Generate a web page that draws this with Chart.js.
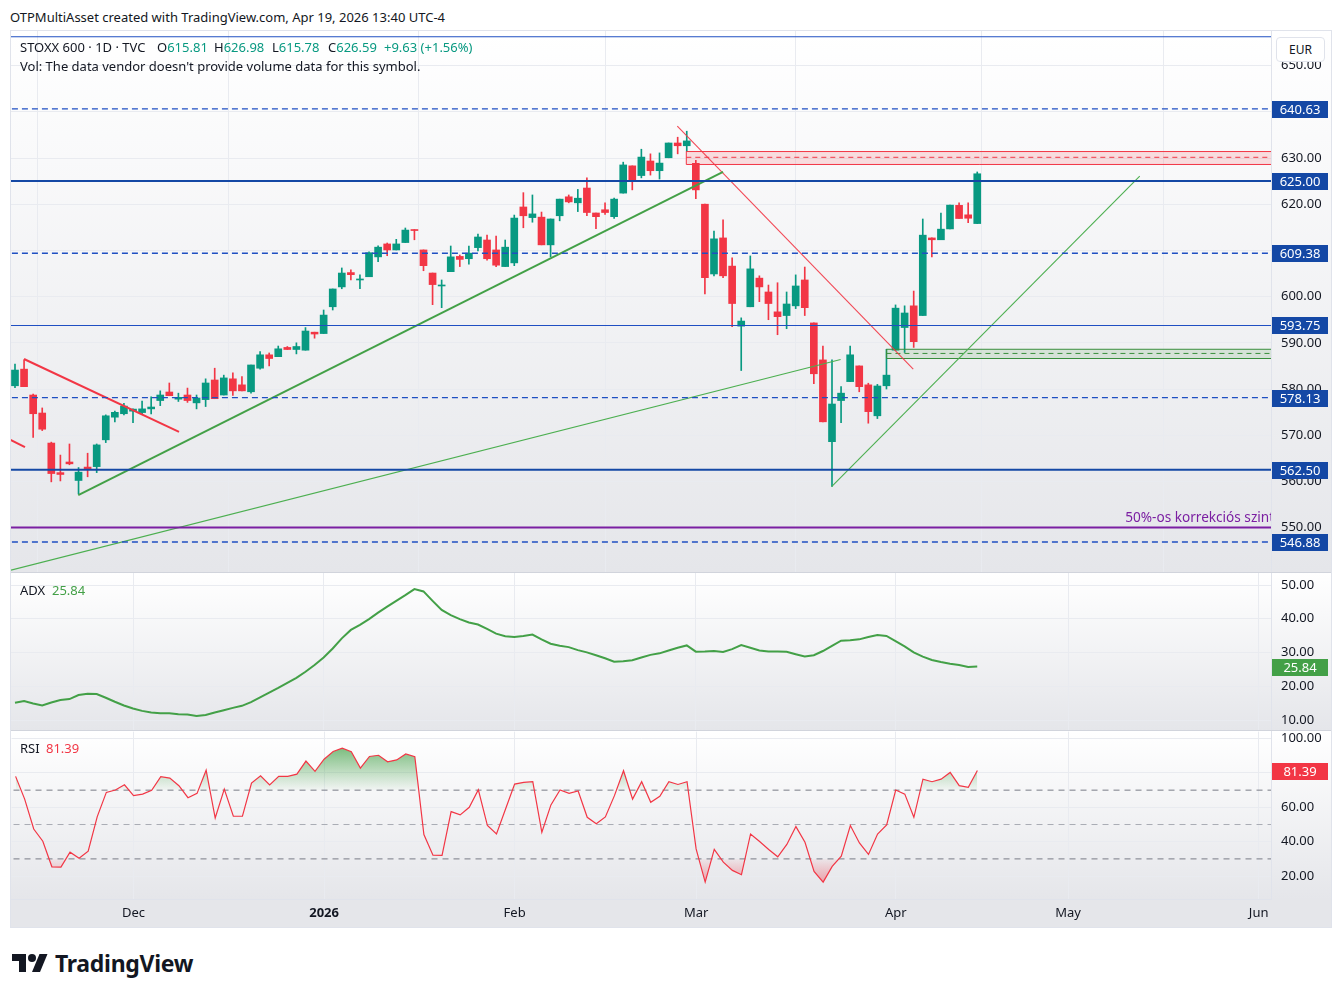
<!DOCTYPE html>
<html>
<head>
<meta charset="utf-8">
<title>STOXX 600</title>
<script src="https://cdn.jsdelivr.net/npm/chart.js@4.4.1/dist/chart.umd.min.js"></script>
<style>
  body { margin: 0; width: 1342px; height: 997px; background: #fff; position: relative; overflow: hidden; font-family: "Noto Sans", sans-serif; color: #131722; }
  .abs { position: absolute; }
  canvas { display: block; }
  #frame { left: 10px; top: 30px; width: 1320px; height: 896px; border: 1px solid #e0e3eb; }
  .sep { left: 11px; width: 1320px; height: 1px; background: #d1d4dc; }
  .txt { font-size: 13px; line-height: 16px; white-space: nowrap; }
  .up { color: #089981; }
  .green { color: #43a047; }
  .red { color: #f23645; }
  #eur { left: 1276px; top: 37px; width: 47px; height: 23px; border: 1px solid #e0e3eb; border-radius: 4px; background: #fff; font-size: 12px; line-height: 23px; text-align: center; }
  #logoText { left: 55px; top: 948px; font-size: 23px; font-weight: bold; line-height: 30px; letter-spacing: -0.3px; }
</style>
</head>
<body>
<div class="abs txt" style="left:10px;top:9px">OTPMultiAsset created with TradingView.com, Apr 19, 2026 13:40 UTC-4</div>
<div id="frame" class="abs"></div>
<div class="abs" style="left:11px;top:31px"><canvas id="priceChart" width="1320" height="541"></canvas></div>
<div class="abs sep" style="top:572px"></div>
<div class="abs" style="left:11px;top:573px"><canvas id="adxChart" width="1320" height="157"></canvas></div>
<div class="abs sep" style="top:730px"></div>
<div class="abs" style="left:11px;top:731px"><canvas id="rsiChart" width="1320" height="196"></canvas></div>

<div class="abs txt" style="left:20px;top:39px">STOXX 600 · 1D · TVC</div>
<div class="abs txt" style="left:157px;top:39px">O<span class="up">615.81</span></div>
<div class="abs txt" style="left:214px;top:39px">H<span class="up">626.98</span></div>
<div class="abs txt" style="left:272px;top:39px">L<span class="up">615.78</span></div>
<div class="abs txt" style="left:328px;top:39px">C<span class="up">626.59</span></div>
<div class="abs txt up" style="left:384px;top:39px">+9.63 (+1.56%)</div>
<div class="abs txt" style="left:20px;top:58px">Vol: The data vendor doesn't provide volume data for this symbol.</div>
<div class="abs txt" style="left:20px;top:582px">ADX</div>
<div class="abs txt green" style="left:52px;top:582px">25.84</div>
<div class="abs txt" style="left:20px;top:740px">RSI</div>
<div class="abs txt red" style="left:46px;top:740px">81.39</div>
<div id="eur" class="abs">EUR</div>

<svg class="abs" style="left:12px;top:950px" width="36" height="28" viewBox="0 0 36 28">
  <path d="M14 22H7V11H0V4h14v18z" fill="#131722"/>
  <circle cx="20" cy="8" r="4" fill="#131722"/>
  <path d="M28 22h-8l7.5-18h8L28 22z" fill="#131722"/>
</svg>
<div id="logoText" class="abs">TradingView</div>

<script>
// daily candles, Nov 12 2025 .. Apr 17 2026 (bar index 0..106)
const opens = [580.7, 584.3, 578.7, 574.8, 568.3, 561.9, 564.2, 560.2, 563.1, 563.2,
  569.0, 573.9, 574.65, 575.2, 574.9, 575.7, 577.5, 579.35, 577.8, 578.7,
  577.0, 577.7, 581.95, 578.7, 582.2, 580.9, 579.4, 584.5, 587.4, 587.0,
  589.0, 588.55, 588.4, 592.3, 592.0, 597.8, 602.1, 605.2, 603.6, 604.3,
  608.6, 611.4, 610.1, 611.7, 614.5, 610.1, 605.1, 602.3, 605.4, 608.7,
  608.2, 610.6, 612.25, 610.1, 606.5, 607.3, 619.4, 617.1, 617.2, 611.2,
  617.5, 621.6, 620.3, 623.5, 618.1, 618.8, 617.3, 622.4, 628.3, 626.2,
  629.35, 627.25, 630.05, 633.25, 632.65, 628.85, 620.0, 604.9, 612.7, 606.6,
  593.6, 597.8, 604.0, 601.0, 596.7, 595.9, 598.0, 603.6, 594.3, 586.3,
  568.6, 577.5, 581.6, 585.0, 580.9, 574.2, 580.7, 588.4, 593.3, 598.0,
  595.9, 612.7, 612.3, 614.65, 619.75, 617.7, 615.81];
const highs = [585.4, 586.3, 578.9, 575.9, 568.5, 565.7, 568.1, 563.0, 566.1, 568.1,
  574.4, 575.2, 576.9, 575.7, 577.4, 578.3, 579.6, 581.3, 579.1, 580.2,
  578.7, 582.2, 584.5, 583.0, 583.5, 582.7, 585.2, 588.1, 587.8, 589.3,
  589.2, 590.0, 593.3, 592.3, 597.1, 601.65, 606.2, 605.8, 604.7, 609.7,
  611.0, 611.6, 612.4, 614.85, 614.5, 610.1, 605.1, 603.6, 610.95, 609.0,
  610.95, 613.55, 613.3, 613.1, 612.25, 617.65, 622.5, 622.0, 618.3, 616.8,
  621.1, 622.0, 623.2, 625.7, 618.1, 620.3, 621.3, 629.1, 628.3, 631.9,
  630.9, 631.1, 633.25, 634.5, 635.8, 629.5, 620.0, 614.2, 616.6, 608.4,
  595.4, 608.8, 604.5, 602.5, 603.0, 601.0, 604.7, 606.4, 594.3, 589.3,
  586.3, 580.5, 589.3, 585.0, 581.25, 581.0, 588.6, 598.2, 598.0, 601.2,
  616.8, 612.7, 618.1, 619.8, 620.3, 620.3, 626.98];
const lows = [580.3, 580.5, 569.5, 571.0, 559.9, 560.1, 563.6, 557.3, 561.0, 561.9,
  568.4, 572.9, 574.4, 572.7, 574.6, 574.6, 576.4, 578.55, 577.3, 577.1,
  575.7, 576.2, 577.9, 578.7, 578.6, 579.6, 579.1, 584.3, 585.0, 587.0,
  588.55, 587.6, 588.4, 591.0, 592.0, 597.1, 601.7, 603.6, 601.7, 604.3,
  607.55, 608.85, 610.1, 611.7, 612.3, 605.6, 598.25, 597.6, 605.4, 606.5,
  607.0, 609.9, 607.9, 606.5, 606.5, 606.7, 614.9, 616.1, 611.2, 608.6,
  616.4, 620.3, 618.4, 617.5, 614.7, 617.8, 616.9, 622.4, 623.1, 625.7,
  626.3, 625.45, 630.05, 630.9, 631.4, 621.2, 600.6, 604.5, 604.1, 593.5,
  584.0, 597.8, 598.9, 595.0, 591.75, 593.05, 597.4, 595.9, 581.15, 572.9,
  558.9, 572.7, 581.6, 579.4, 572.6, 573.6, 580.0, 588.4, 587.9, 589.0,
  595.9, 608.6, 612.3, 614.65, 616.9, 616.0, 615.78];
const closes = [584.1, 580.5, 574.65, 571.3, 561.7, 561.5, 563.8, 562.0, 562.7, 567.9,
  574.2, 574.95, 576.3, 575.65, 575.7, 576.1, 578.7, 578.55, 578.2, 577.5,
  578.05, 581.3, 577.9, 582.4, 579.6, 579.6, 585.2, 587.4, 586.6, 588.7,
  588.55, 589.2, 592.55, 591.9, 596.0, 601.65, 605.1, 604.75, 603.8, 609.5,
  610.7, 610.1, 611.4, 614.4, 614.3, 606.7, 602.6, 602.5, 608.6, 608.05,
  609.4, 612.9, 608.2, 606.8, 610.7, 617.0, 617.5, 617.9, 611.2, 616.8,
  621.1, 620.5, 621.3, 618.2, 617.3, 618.2, 621.1, 628.5, 624.95, 630.2,
  627.25, 628.9, 633.25, 632.65, 633.7, 623.1, 604.1, 612.5, 604.5, 598.5,
  594.7, 606.0, 602.1, 598.5, 595.65, 598.4, 602.3, 597.6, 583.3, 572.9,
  576.75, 579.1, 587.4, 580.5, 575.1, 580.65, 583.0, 597.5, 596.45, 590.25,
  613.3, 612.3, 614.6, 619.8, 616.9, 616.96, 626.59];

const adxValues = [15.1, 15.6, 14.9, 14.3, 15.2, 15.9, 16.2, 17.4, 17.8, 17.7,
  16.6, 15.4, 14.3, 13.4, 12.7, 12.2, 12.0, 12.0, 11.7, 11.6,
  11.2, 11.5, 12.2, 12.9, 13.6, 14.2, 15.3, 16.7, 18.1, 19.5,
  21.0, 22.5, 24.3, 26.3, 28.5, 31.2, 34.2, 36.7, 38.2, 39.9,
  41.8, 43.6, 45.3, 47.0, 48.8, 48.1, 45.3, 42.6, 41.1, 39.9,
  38.9, 38.3, 37.0, 35.6, 34.8, 34.6, 34.9, 35.3, 33.9, 32.6,
  32.0, 31.6, 30.7, 30.05, 29.2, 28.3, 27.3, 27.4, 27.7, 28.5,
  29.3, 29.75, 30.6, 31.4, 32.1, 30.25, 30.3, 30.44, 30.15, 31.0,
  32.2, 31.4, 30.6, 30.3, 30.3, 30.2, 29.5, 28.8, 29.2, 30.45,
  32.0, 33.5, 33.6, 33.9, 34.6, 35.2, 34.9, 33.4, 31.8, 30.05,
  28.8, 27.8, 27.2, 26.7, 26.3, 25.7, 25.84];

const rsiValues = [78.0, 64.8, 47.4, 40.3, 25.4, 25.2, 33.9, 30.4, 34.5, 54.6,
  68.7, 70.05, 73.1, 66.8, 67.7, 69.9, 77.8, 77.0, 72.6, 65.6,
  68.1, 81.6, 53.8, 70.6, 54.8, 54.8, 74.1, 78.4, 73.1, 78.0,
  78.0, 79.3, 86.9, 80.9, 88.0, 92.5, 94.4, 92.3, 82.8, 89.6,
  90.3, 86.5, 87.6, 91.1, 89.4, 44.2, 32.2, 32.0, 57.5, 55.6,
  60.0, 70.2, 49.4, 44.5, 59.0, 73.5, 74.5, 74.9, 45.5, 61.4,
  70.05, 68.1, 69.5, 54.2, 50.4, 54.4, 66.8, 81.3, 64.8, 74.9,
  62.9, 66.4, 74.9, 73.3, 74.9, 35.8, 16.5, 35.5, 28.1, 23.3,
  20.8, 44.5, 40.1, 35.5, 31.2, 38.4, 48.8, 39.7, 22.7, 16.5,
  25.6, 31.6, 49.4, 39.3, 32.6, 44.5, 49.8, 70.05, 67.7, 54.2,
  76.4, 74.9, 76.4, 80.3, 72.6, 71.6, 81.39];

// month ticks, as bar indexes (future bars continue on weekdays)
const monthTicks = [13, 34, 55, 75, 97, 116, 137];
const monthLabels = ['Dec', '2026', 'Feb', 'Mar', 'Apr', 'May', 'Jun'];
const priceTicks = [550, 560, 570, 580, 590, 600, 610, 620, 630, 640, 650];
const adxTicks = [10, 20, 30, 40, 50];
const rsiTicks = [20, 40, 60, 80, 100];

// drawings
const solidLevels = [656.25, 625.00, 593.75, 562.50];
const dashedLevels = [640.63, 609.38, 578.13, 546.88];
const fibLevel = 550;
const redLines = [[-0.5, 569.0, 1.1, 567.4], [0.99, 586.5, 18.07, 570.7]];
const greenLines = [[6.97, 557.05, 78.0, 627.0]];
const thinRedLines = [[72.96, 636.9, 98.95, 584.3]];
const thinGreenLines = [[-0.44, 540.8, 90.95, 586.4], [89.96, 558.85, 123.9, 626.1]];
const resistZone = [73.95, 628.6, 631.4, 630.15];   // from bar, bottom, top, middle
const supportZone = [96, 586.6, 588.6, 587.7];
const rsiLevels = [70, 50, 30];

const X_MIN = -0.44, X_MAX = 138.36;
const FONT = '"Noto Sans", sans-serif';
const UP = '#089981', DOWN = '#f23645', NAVY = '#1448a5', BLUE = '#1f4fc2';

const panelBg = {
  id: 'panelBg',
  beforeDraw(chart) {
    const { ctx, width, height, chartArea } = chart;
    const g = ctx.createLinearGradient(0, chartArea.top, 0, chartArea.bottom);
    g.addColorStop(0, '#ffffff');
    g.addColorStop(1, '#e5e6ea');
    ctx.save();
    ctx.fillStyle = g;
    ctx.fillRect(0, 0, width, height);
    ctx.restore();
  }
};

const axisBoxes = {
  id: 'axisBoxes',
  afterDraw(chart, args, opts) {
    const { ctx, chartArea } = chart;
    const ys = chart.scales.y;
    (opts.items || []).forEach(it => {
      const y = Math.round(ys.getPixelForValue(it.value));
      ctx.save();
      ctx.fillStyle = it.color;
      ctx.fillRect(chartArea.right + 1, y - 8, 56, 17);
      ctx.fillStyle = '#ffffff';
      ctx.font = '13px ' + FONT;
      ctx.textAlign = 'center';
      ctx.textBaseline = 'middle';
      ctx.fillText(it.value.toFixed(2), chartArea.right + 29, y + 1);
      ctx.restore();
    });
  }
};

const fibText = {
  id: 'fibText',
  afterDatasetsDraw(chart) {
    const { ctx, chartArea, scales } = chart;
    ctx.save();
    ctx.beginPath();
    ctx.rect(chartArea.left, chartArea.top, chartArea.width, chartArea.height);
    ctx.clip();
    ctx.fillStyle = '#7b1fa2';
    ctx.font = '13.6px ' + FONT;
    ctx.textBaseline = 'bottom';
    ctx.fillText('50%-os korrekciós szint 550.00', scales.x.getPixelForValue(122.3), scales.y.getPixelForValue(fibLevel) - 3);
    ctx.restore();
  }
};

function xScale(showLabels) {
  return {
    type: 'linear', min: X_MIN, max: X_MAX, offset: false,
    afterBuildTicks: s => { s.ticks = monthTicks.map(v => ({ value: v })); },
    afterFit: s => { s.height = showLabels ? 28 : 0; s.paddingLeft = 0; s.paddingRight = 0; },
    grid: { color: '#e9ebf0', drawTicks: false },
    border: { display: showLabels, color: '#e0e3eb' },
    ticks: {
      display: showLabels, autoSkip: false, maxRotation: 0, padding: 6, color: '#131722',
      font: ctx => ({ family: FONT, size: 13, weight: ctx.index === 1 ? 'bold' : 'normal' }),
      callback: v => monthLabels[monthTicks.indexOf(v)]
    }
  };
}

function yScale(min, max, ticks) {
  return {
    position: 'right', min, max,
    afterBuildTicks: s => { s.ticks = ticks.map(v => ({ value: v })); },
    afterFit: s => { s.width = 60; s.paddingTop = 0; s.paddingBottom = 0; },
    grid: { color: '#e9ebf0', drawTicks: false },
    border: { display: true, color: '#e0e3eb' },
    ticks: { padding: 10, color: '#131722', font: { family: FONT, size: 13 }, autoSkip: false, callback: v => v.toFixed(2) }
  };
}

function seg(p, color, width, dash, order) {
  return { type: 'line', data: [{ x: p[0], y: p[1] }, { x: p[2], y: p[3] }], borderColor: color,
    borderWidth: width, borderDash: dash || [], pointRadius: 0, fill: false, order: order || 1 };
}

function zone(z, stroke, bg) {
  const right = X_MAX + 5;
  return [
    { type: 'line', data: [{ x: z[0], y: z[2] }, { x: right, y: z[2] }, { x: right, y: z[1] }, { x: z[0], y: z[1] }, { x: z[0], y: z[2] }],
      borderColor: stroke, borderWidth: 1, backgroundColor: bg, fill: 'shape', pointRadius: 0, order: 5 },
    seg([z[0], z[3], right, z[3]], stroke, 1, [5, 4], 5)
  ];
}

const commonOpts = {
  responsive: false, animation: false, events: [],
  layout: { padding: 0 },
  plugins: { legend: { display: false }, tooltip: { enabled: false } }
};

// ---------- price panel ----------
const candleColors = opens.map((o, i) => closes[i] >= o ? UP : DOWN);
const priceSets = [
  { type: 'bar', data: opens.map((o, i) => ({ x: i, y: [lows[i], highs[i]] })), backgroundColor: candleColors,
    barThickness: 1, grouped: false, minBarLength: 1, order: 20 },
  { type: 'bar', data: opens.map((o, i) => ({ x: i, y: [o, closes[i]] })), backgroundColor: candleColors,
    barThickness: 7, grouped: false, minBarLength: 1, order: 19 },
  ...zone(resistZone, '#f23645', 'rgba(242,54,69,0.15)'),
  ...zone(supportZone, '#388e3c', 'rgba(56,142,60,0.14)')
];
solidLevels.forEach(v => {
  const thick = (v === 625 || v === 562.5);
  priceSets.push(seg([X_MIN - 1, v, X_MAX + 1, v], thick ? NAVY : BLUE, thick ? 2 : 1.2));
});
dashedLevels.forEach(v => priceSets.push(seg([X_MIN - 1, v, X_MAX + 1, v], BLUE, 1.3, [6, 4])));
priceSets.push(seg([X_MIN - 1, fibLevel, X_MAX + 1, fibLevel], '#7b1fa2', 2));
redLines.forEach(p => priceSets.push(seg(p, '#f23645', 2)));
greenLines.forEach(p => priceSets.push(seg(p, '#43a047', 2)));
thinRedLines.forEach(p => priceSets.push(seg(p, 'rgba(242,54,69,0.9)', 1.1)));
thinGreenLines.forEach(p => priceSets.push(seg(p, '#4caf50', 1.1)));

new Chart(document.getElementById('priceChart'), {
  type: 'bar',
  data: { datasets: priceSets },
  options: { ...commonOpts,
    scales: { x: xScale(false), y: yScale(540.39, 657.49, priceTicks) },
    plugins: { ...commonOpts.plugins,
      axisBoxes: { items: [640.63, 625.00, 609.38, 593.75, 578.13, 562.50, 546.88].map(v => ({ value: v, color: NAVY })) } }
  },
  plugins: [panelBg, fibText, axisBoxes]
});

// ---------- ADX panel ----------
new Chart(document.getElementById('adxChart'), {
  type: 'line',
  data: { datasets: [{ data: adxValues.map((v, i) => ({ x: i, y: v })), borderColor: '#43a047', borderWidth: 2, pointRadius: 0, fill: false }] },
  options: { ...commonOpts,
    scales: { x: xScale(false), y: yScale(7.04, 53.56, adxTicks) },
    plugins: { ...commonOpts.plugins, axisBoxes: { items: [{ value: 25.84, color: '#43a047' }] } }
  },
  plugins: [panelBg, axisBoxes]
});

// ---------- RSI panel ----------
const rsiPoints = rsiValues.map((v, i) => ({ x: i, y: v }));
const rsiSets = [
  { data: rsiPoints, borderColor: '#f23645', borderWidth: 1.2, pointRadius: 0, fill: false, order: 0 },
  { data: rsiPoints, borderWidth: 0, pointRadius: 0, order: 3,
    fill: { target: { value: 70 }, above: 'rgba(67,160,71,0.3)', below: 'rgba(0,0,0,0)' } },
  { data: rsiPoints, borderWidth: 0, pointRadius: 0, order: 3,
    fill: { target: { value: 30 }, above: 'rgba(0,0,0,0)', below: 'rgba(242,54,69,0.3)' } }
];
rsiLevels.forEach(v => rsiSets.push(seg([X_MIN - 1, v, X_MAX + 1, v], v === 50 ? '#a9acb4' : '#787b86', 1, [6, 5], 2)));

const rsiChart = new Chart(document.getElementById('rsiChart'), {
  type: 'line',
  data: { datasets: rsiSets },
  options: { ...commonOpts,
    scales: { x: xScale(true), y: yScale(6.67, 104.06, rsiTicks) },
    plugins: { ...commonOpts.plugins, axisBoxes: { items: [{ value: 81.39, color: '#f23645' }] } }
  },
  plugins: [panelBg, axisBoxes]
});

const rs = rsiChart.scales.y;
const rctx = rsiChart.ctx;
const greenFade = rctx.createLinearGradient(0, rs.getPixelForValue(100), 0, rs.getPixelForValue(70));
greenFade.addColorStop(0, 'rgba(67,160,71,0.85)');
greenFade.addColorStop(1, 'rgba(67,160,71,0.03)');
const redFade = rctx.createLinearGradient(0, rs.getPixelForValue(30), 0, rs.getPixelForValue(0));
redFade.addColorStop(0, 'rgba(242,54,69,0.03)');
redFade.addColorStop(1, 'rgba(242,54,69,0.85)');
rsiChart.data.datasets[1].fill = { target: { value: 70 }, above: greenFade, below: 'rgba(0,0,0,0)' };
rsiChart.data.datasets[2].fill = { target: { value: 30 }, above: 'rgba(0,0,0,0)', below: redFade };
rsiChart.update('none');
</script>
</body>
</html>
